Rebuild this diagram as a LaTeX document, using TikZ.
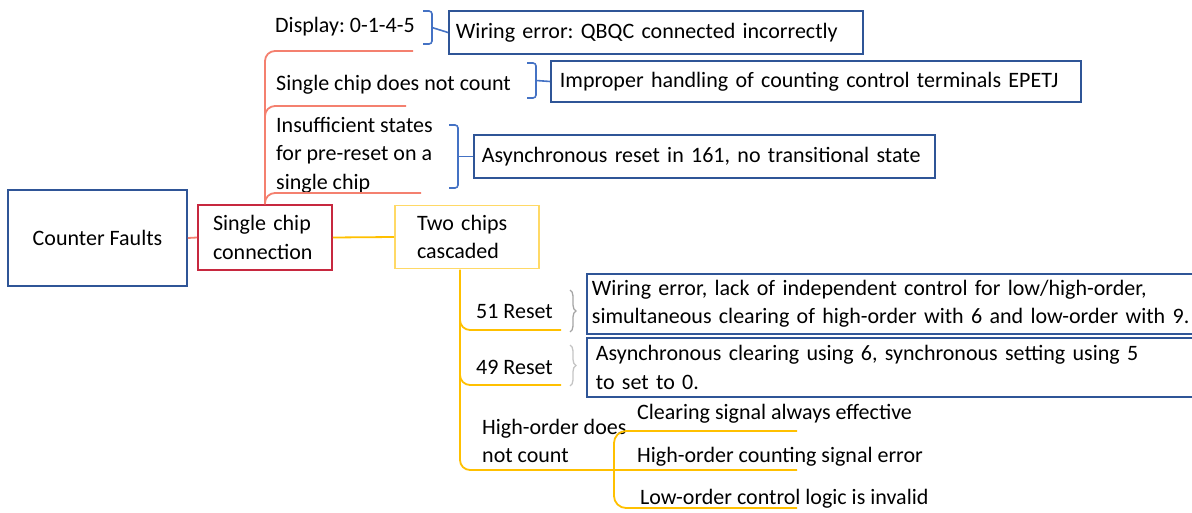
\documentclass[tikz,border=0pt]{standalone}
\usepackage{fontspec}
\setmainfont{Carlito}
\usetikzlibrary{decorations.pathreplacing}
\definecolor{boxblue}{HTML}{2F5597}
\definecolor{brblue}{HTML}{4472C4}
\definecolor{boxred}{HTML}{C7283F}
\definecolor{salmon}{HTML}{F4806F}
\definecolor{boxyellow}{HTML}{FFD966}
\definecolor{lineorange}{HTML}{FFC000}
\definecolor{brgray}{HTML}{A5A5A5}
\definecolor{brgraylight}{HTML}{C4C4C4}
\newcommand{\mapfont}{\fontsize{22}{28.5}\selectfont\frenchspacing}
\tikzset{
  txt/.style={font=\mapfont, inner sep=0pt, align=left},
  lbl/.style={txt, anchor=west},
  bluebox/.style={draw=boxblue, line width=1.8pt, rectangle, inner sep=0pt, anchor=west,
                  font=\mapfont, align=left},
  redline/.style={draw=salmon, line width=1.8pt},
  orangeline/.style={draw=lineorange, line width=1.8pt},
  bracket/.style={draw=brblue, line width=1.6pt, rounded corners=3pt},
  curly/.style={line width=1.3pt, decorate, decoration={brace, amplitude=6pt}},
}
\begin{document}
\begin{tikzpicture}[x=1pt, y=-1pt]
\useasboundingbox (0,0) rectangle (1192,513);

% main nodes
\node[draw=boxblue, line width=1.8pt, minimum width=179pt, minimum height=96pt,
      txt, align=center] (cf) at (97.5,238) {Counter Faults};
\node[draw=boxred, line width=1.8pt, minimum width=134pt, minimum height=65pt,
      txt, text width=104pt] (sc) at (265,237.5) {Single chip\\connection};
\node[draw=boxyellow, line width=1.8pt, minimum width=144pt, minimum height=63pt,
      txt, text width=100pt] (tc) at (467,237) {Two chips\\cascaded};

\draw[redline] (cf.east) -- (sc.west);
\draw[orangeline] (sc.east) -- (tc.west);

% single-chip branches
\node[lbl] (disp) at (275,27) {Display: 0-1-4-5};
\node[lbl] (snc) at (276,85) {Single chip does not count};
\node[lbl] (ins) at (276,155) {Insufficient states\\for pre-reset on a\\single chip};

\coordinate (rtop) at (sc.north);
\coordinate (r1) at (413,51);
\coordinate (r2) at (406,106);
\coordinate (r3) at (421,193);
\draw[redline, rounded corners=10pt] (rtop) |- (r1);
\draw[redline, rounded corners=10pt] (rtop) |- (r2);
\draw[redline, rounded corners=10pt] (rtop) |- (r3);

% causes, single chip
\node[bluebox, minimum width=414pt, minimum height=43pt, text width=400pt] (w1) at (448,32.5)
  {Wiring error: QBQC connected incorrectly};
\node[bluebox, minimum width=530pt, minimum height=41pt, text width=512pt] (w2) at (550,81.5)
  {Improper handling of counting control terminals EPETJ};
\node[bluebox, minimum width=461pt, minimum height=43pt, text width=445pt] (w3) at (473,156.5)
  {Asynchronous reset in 161, no transitional state};

\draw[bracket] (423,11) -- (432,11) -- (432,44) -- (423,44);
\coordinate (b1) at (432,27.5);
\draw[draw=brblue, line width=1.6pt] (b1) -- (w1.west);
\draw[bracket] (527,63) -- (536,63) -- (536,98) -- (527,98);
\coordinate (b2) at (536,80.5);
\draw[draw=brblue, line width=1.6pt] (b2) -- (w2.west);
\draw[bracket] (449,125) -- (458,125) -- (458,188) -- (449,188);
\coordinate (b3) at (458,156.5);
\draw[draw=brblue, line width=1.6pt] (b3) -- (w3.west);

% two-chip branches
\coordinate (otop) at (460,270);
\coordinate (o1) at (561,330);
\coordinate (o2) at (561,385);
\coordinate (o3) at (797,470);
\draw[orangeline, rounded corners=10pt] (otop) |- (o1);
\draw[orangeline, rounded corners=10pt] (otop) |- (o2);
\draw[orangeline, rounded corners=10pt] (otop) |- (o3);

\node[lbl] (r51) at (476,312) {51 Reset};
\node[lbl] (r49) at (476,367) {49 Reset};
\node[lbl] (hnc) at (482,441) {High-order does\\not count};

\node[bluebox, minimum width=650pt, minimum height=60pt, text width=640pt] (w51) at (586,304)
  {Wiring error, lack of independent control for low/high-order,\\simultaneous clearing of high-order with 6 and low-order with 9.};
\node[bluebox, minimum width=650pt, minimum height=59pt, text width=632pt] (w49) at (586,367.5)
  {Asynchronous clearing using 6, synchronous setting using 5\\to set to 0.};

\draw[curly, draw=brgray] (570,290) -- (570,332);
\draw[curly, draw=brgraylight] (570,345) -- (570,386);

% high-order sub-branches
\coordinate (h1) at (797,431);
\coordinate (h3) at (797,508);
\draw[orangeline, rounded corners=12pt] (h1) -- (614,431) -- (614,508) -- (h3);
\node[lbl] (cse) at (637,414) {Clearing signal always effective};
\node[lbl] (hcs) at (637,457) {High-order counting signal error};
\node[lbl] (loc) at (640,499) {Low-order control logic is invalid};
\end{tikzpicture}
\end{document}
